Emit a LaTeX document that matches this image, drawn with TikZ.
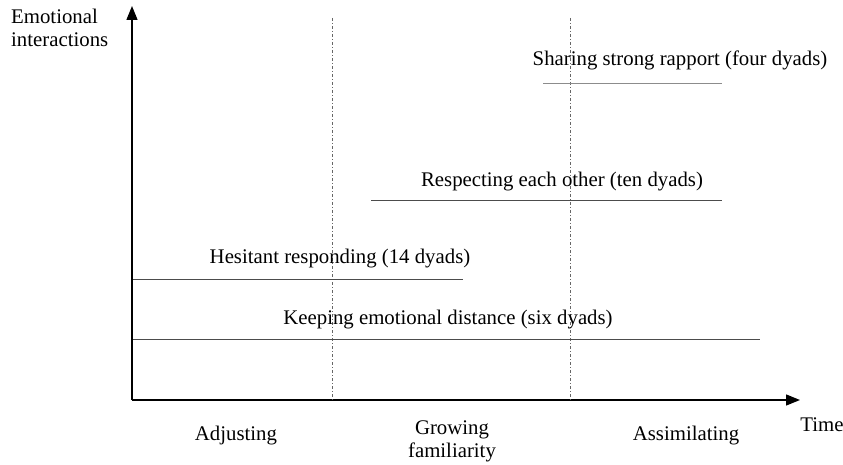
\documentclass[tikz,border=0pt]{standalone}
\usepackage{fontspec}
\setmainfont{Liberation Serif}
\usetikzlibrary{arrows.meta}
\usetikzlibrary{positioning}

\begin{document}
\begin{tikzpicture}[x=1pt,y=-1pt,
    lbl/.style={font=\fontsize{20.8}{23}\selectfont,inner sep=0pt},
    phase/.style={draw=black!70,line width=0.6pt},
    divider/.style={draw=black!60,line width=0.5pt,dash pattern=on 3pt off 2pt on 1pt off 2pt}]
    \useasboundingbox (0,0) rectangle (843,465);
    % axes
    \coordinate (o) at (132,400);
    \coordinate (ytop) at (132,6);
    \coordinate (xend) at (800,400);
    \draw[line width=1.4pt,-{Triangle[length=14pt,width=11pt]}] (o) -- (ytop);
    \draw[line width=1.4pt,-{Triangle[length=14pt,width=11pt]}] (o) -- (xend);
    % stage dividers
    \coordinate (d1t) at (332,18);
    \coordinate (d1b) at (332,400);
    \coordinate (d2t) at (570,18);
    \coordinate (d2b) at (570,400);
    \path (d1t) edge[divider] (d1b);
    \path (d2t) edge[divider] (d2b);
    % labels
    \begin{scope}[every node/.style={lbl}]
      \node[align=left,anchor=west] (yl) at (11,28) {Emotional\\interactions};
      \node (share) at (680,60) {Sharing strong rapport (four dyads)};
      \node (resp) at (562,182) {Respecting each other (ten dyads)};
      \node (hes) at (340,259) {Hesitant responding (14 dyads)};
      \node (keep) at (448,320) {Keeping emotional distance (six dyads)};
      \node (adj) at (236,436) {Adjusting};
      \node[align=center] (grow) at (452,441) {Growing\\familiarity};
      \node (assim) at (686,436) {Assimilating};
      \node (time) at (822,425) {Time};
    \end{scope}
    % interaction lines
    \coordinate (s1) at (543,83);  \coordinate (s2) at (722,83);
    \coordinate (r1) at (371,200); \coordinate (r2) at (722,200);
    \coordinate (h1) at (133,279); \coordinate (h2) at (463,279);
    \coordinate (k1) at (133,339); \coordinate (k2) at (760,339);
    \path (s1) edge[phase,draw=black!45] (s2);
    \path (r1) edge[phase] (r2);
    \path (h1) edge[phase] (h2);
    \path (k1) edge[phase] (k2);
\end{tikzpicture}
\end{document}
